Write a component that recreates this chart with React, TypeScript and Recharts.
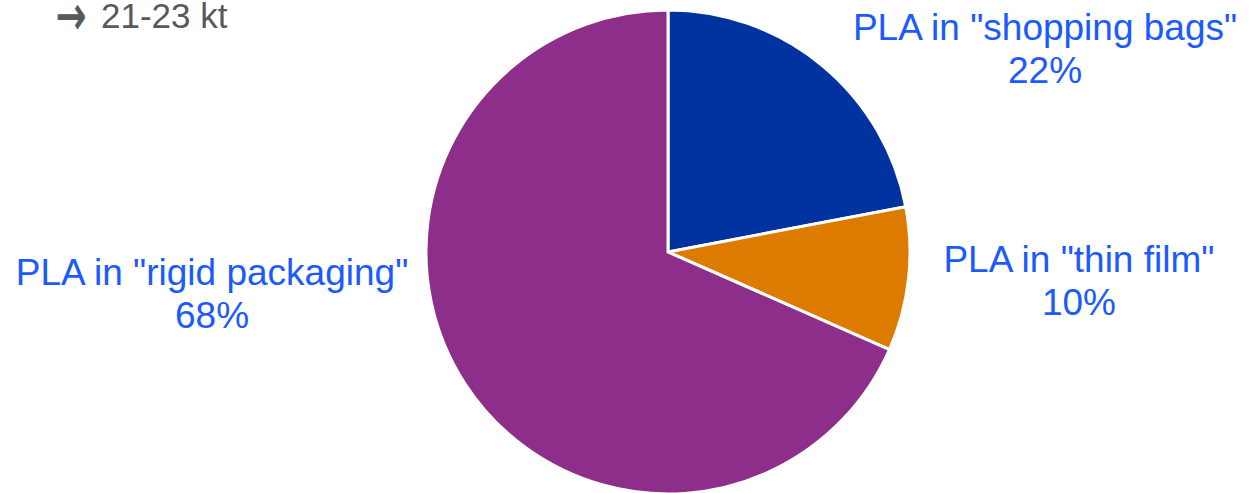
import { PieChart, Pie, Cell } from "recharts";

// share of PLA use by application (%)
const categories = [
  'PLA in "shopping bags"',
  'PLA in "thin film"',
  'PLA in "rigid packaging"',
];
const shares = [22, 9.6, 68.4];
const sliceColors = ["#0033a0", "#dd7b00", "#8e2e8b"];
const note = "\u2192 21-23 kt";

const data = categories.map((name, i) => ({ name, value: shares[i] }));

// label anchor, in multiples of the outer radius from the pie centre
const labelPlacement: Record<string, { dx: number; dy: number }> = {
  'PLA in "shopping bags"': { dx: 1.558, dy: -0.876 },
  'PLA in "thin film"': { dx: 1.698, dy: 0.083 },
  'PLA in "rigid packaging"': { dx: -1.884, dy: 0.136 },
};

const FONT = "'Liberation Sans', Arial, sans-serif";

const renderLabel = (props: any) => {
  const { cx, cy, outerRadius, name, percent } = props;
  const p = labelPlacement[name] || { dx: 1.3, dy: 0 };
  const x = cx + p.dx * outerRadius;
  const y = cy + p.dy * outerRadius;
  return (
    <text
      x={x}
      y={y}
      textAnchor="middle"
      fill="#1a5aff"
      fontSize={37}
      fontFamily={FONT}
    >
      <tspan x={x} y={y}>{name}</tspan>
      <tspan x={x} y={y + 43}>{Math.round(percent * 100)}%</tspan>
    </text>
  );
};

export default function App() {
  const [arrow, ...rest] = note.split(" ");
  return (
    <div style={{ position: "absolute", left: 0, top: 0, width: 1256, height: 493, background: "#fff" }}>
      <PieChart width={1256} height={493} margin={{ top: 0, right: 0, bottom: 0, left: 0 }}>
        <Pie
          data={data}
          dataKey="value"
          nameKey="name"
          cx={668}
          cy={252}
          outerRadius={242}
          startAngle={90}
          endAngle={-270}
          stroke="#ffffff"
          strokeWidth={3}
          label={renderLabel}
          labelLine={false}
          isAnimationActive={false}
        >
          {data.map((d, i) => (
            <Cell key={d.name} fill={sliceColors[i]} />
          ))}
        </Pie>
      </PieChart>
      <svg
        width={400}
        height={50}
        style={{ position: "absolute", left: 0, top: 0, pointerEvents: "none" }}
      >
        {/* arrow glyph stretched a bit taller, like the original */}
        <text
          x={56}
          y={28}
          fill="#595959"
          stroke="#595959"
          strokeWidth={0.8}
          fontFamily="'DejaVu Sans', sans-serif"
          fontSize={36}
          transform="translate(0,16) scale(1,1.5) translate(0,-16)"
        >
          {arrow}
        </text>
        <text x={101} y={28} fill="#595959" fontFamily={FONT} fontSize={35}>
          {rest.join(" ")}
        </text>
      </svg>
    </div>
  );
}
